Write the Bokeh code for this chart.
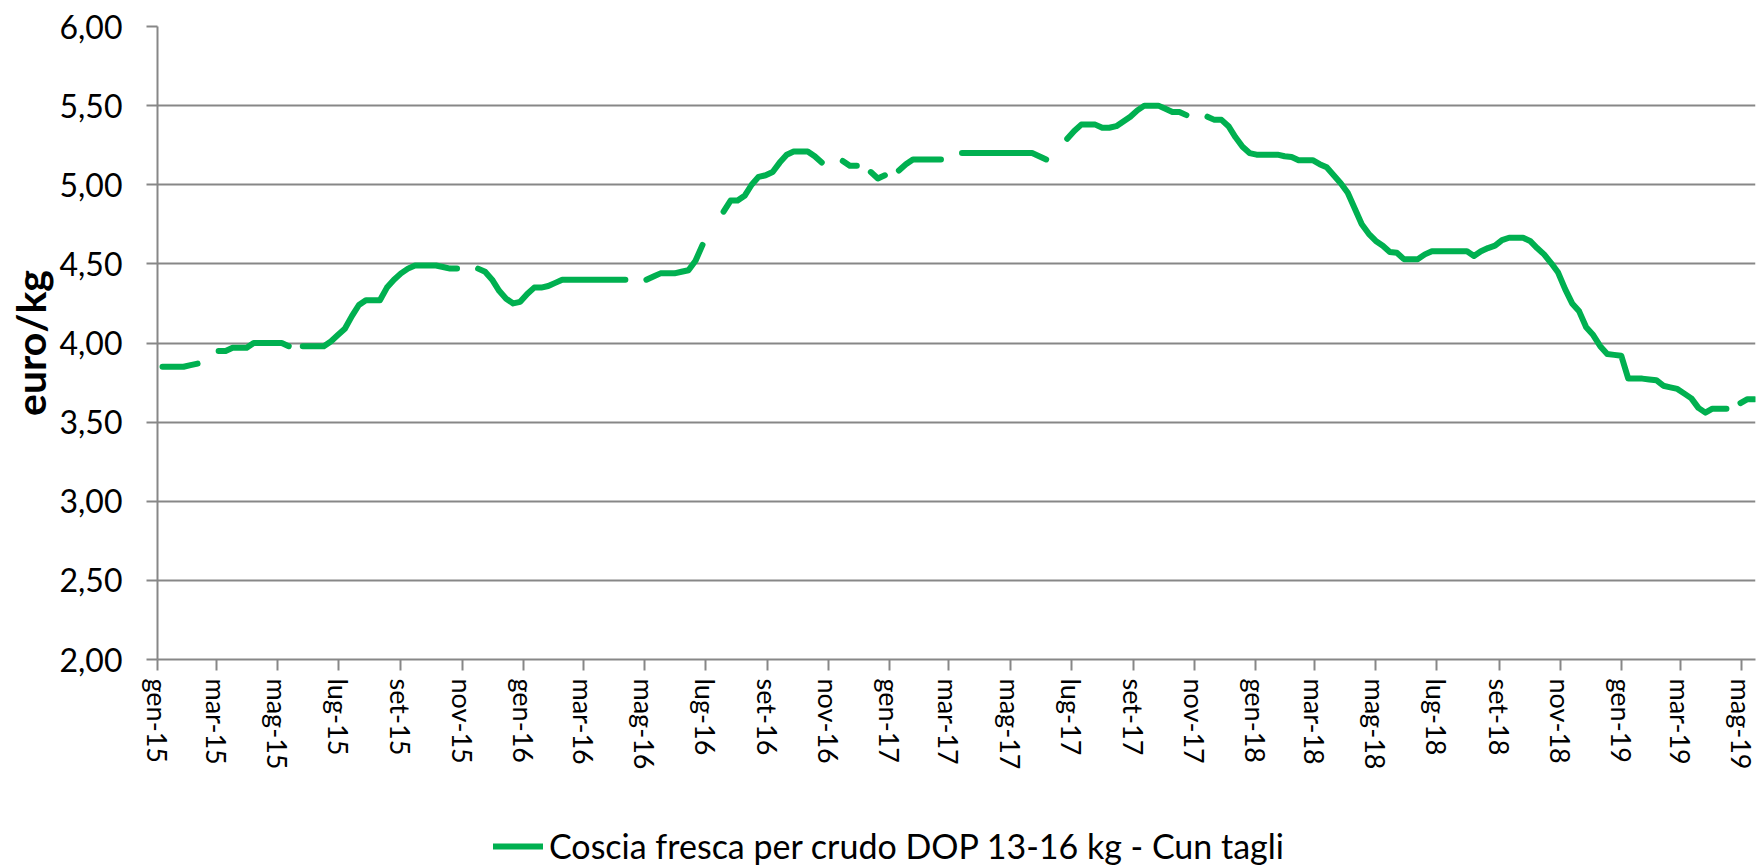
import numpy as np
import pandas as pd
from bokeh.plotting import figure
from bokeh.layouts import column
from bokeh.models import Range1d, FixedTicker, Legend, LegendItem
from bokeh.embed import file_html
from bokeh.resources import INLINE

# ---------------- data (weekly CUN quotations, None = no quotation) ----------------
first_week = "2015-01-06"

prices_2015 = [3.85, 3.85, 3.85, 3.85, 3.86, 3.87, None, None,
               3.95, 3.95, 3.97, 3.97, 3.97, 4.00, 4.00, 4.00, 4.00, 4.00, 3.98, None,
               3.98, 3.98, 3.98, 3.98, 4.01, 4.05, 4.09, 4.17, 4.24, 4.27,
               4.27, 4.27, 4.35, 4.40, 4.44, 4.47, 4.49, 4.49, 4.49, 4.49,
               4.48, 4.47, 4.47, None, None, 4.47, 4.45, 4.40, 4.33, 4.28,
               4.25, 4.26]

prices_2016 = [4.31, 4.35, 4.35, 4.36, 4.38, 4.40, 4.40, 4.40,
               4.40, 4.40, 4.40, 4.40, 4.40, 4.40, 4.40, None, None, 4.40,
               4.42, 4.44, 4.44, 4.44, 4.45, 4.46, 4.52, 4.62, None, None,
               4.83, 4.90, 4.90, 4.93, 5.00, 5.05, 5.06, 5.08, 5.14, 5.19,
               5.21, 5.21, 5.21, 5.18, 5.14, None, None, 5.15, 5.12, 5.12,
               None, 5.08, 5.04, 5.06]

prices_2017 = [None, 5.09, 5.13, 5.16, 5.16, 5.16, 5.16, 5.16, None, None,
               5.20, 5.20, 5.20, 5.20, 5.20, 5.20, 5.20, 5.20, 5.20, 5.20,
               5.20, 5.18, 5.16, None, None, 5.29, 5.34, 5.38, 5.38, 5.38,
               5.36, 5.36, 5.37, 5.40, 5.43, 5.47, 5.50, 5.50, 5.50, 5.48,
               5.46, 5.46, 5.44, None, None, 5.43, 5.41, 5.41, 5.37, 5.30,
               5.24, 5.20]

prices_2018 = [5.19, 5.19, 5.19, 5.19, 5.18, 5.175, 5.155, 5.155, 5.155, 5.13,
               5.11, 5.06, 5.01, 4.95, 4.85, 4.75, 4.69, 4.645, 4.615, 4.575,
               4.57, 4.53, 4.53, 4.53, 4.56, 4.58, 4.58, 4.58, 4.58, 4.58,
               4.58, 4.55, 4.58, 4.60, 4.615, 4.65, 4.665, 4.665, 4.665, 4.645,
               4.60, 4.56, 4.505, 4.445, 4.34, 4.25, 4.20, 4.10, 4.05, 3.98,
               3.93, 3.925]

prices_2019 = [3.92, 3.775, 3.775, 3.775, 3.77, 3.765, 3.73, 3.72, 3.71, 3.68,
               3.65, 3.59, 3.56, 3.585, 3.585, 3.585, None, 3.62, 3.645, 3.645]

x_tick_dates = ["2015-01-01", "2015-03-01", "2015-05-01", "2015-07-01", "2015-09-01", "2015-11-01",
                "2016-01-01", "2016-03-01", "2016-05-01", "2016-07-01", "2016-09-01", "2016-11-01",
                "2017-01-01", "2017-03-01", "2017-05-01", "2017-07-01", "2017-09-01", "2017-11-01",
                "2018-01-01", "2018-03-01", "2018-05-01", "2018-07-01", "2018-09-01", "2018-11-01",
                "2019-01-01", "2019-03-01", "2019-05-01"]
x_tick_labels = ["gen-15", "mar-15", "mag-15", "lug-15", "set-15", "nov-15",
                 "gen-16", "mar-16", "mag-16", "lug-16", "set-16", "nov-16",
                 "gen-17", "mar-17", "mag-17", "lug-17", "set-17", "nov-17",
                 "gen-18", "mar-18", "mag-18", "lug-18", "set-18", "nov-18",
                 "gen-19", "mar-19", "mag-19"]

y_ticks = [2.0, 2.5, 3.0, 3.5, 4.0, 4.5, 5.0, 5.5, 6.0]
y_tick_labels = ["2,00", "2,50", "3,00", "3,50", "4,00", "4,50", "5,00", "5,50", "6,00"]

series_name = "Coscia fresca per crudo DOP 13-16 kg - Cun tagli"
y_title = "euro/kg"

# ---------------- build ----------------
origin = pd.Timestamp("2015-01-01")
prices = prices_2015 + prices_2016 + prices_2017 + prices_2018 + prices_2019
dates = pd.date_range(first_week, periods=len(prices), freq="7D")
xs = np.asarray((dates - origin).days, dtype=float)
ys = np.array([np.nan if v is None else v for v in prices], dtype=float)
tick_days = [int((pd.Timestamp(d) - origin).days) for d in x_tick_dates]

GRID = "#878787"
GREEN = "#00B050"
FONT = "Lato"
W = 1757
LEFT = 157

p = figure(width=W, height=800, output_backend="svg", toolbar_location=None,
           x_range=Range1d(0, xs[-1] + 1), y_range=Range1d(2, 6),
           min_border_left=LEFT, min_border_right=2, min_border_top=26, min_border_bottom=141)
p.outline_line_color = None
p.background_fill_color = "white"
p.border_fill_color = "white"

p.xgrid.visible = False
p.ygrid.grid_line_color = GRID
p.ygrid.grid_line_width = 2

p.yaxis.ticker = FixedTicker(ticks=y_ticks)
p.yaxis.major_label_overrides = dict(zip(y_ticks, y_tick_labels))
p.xaxis.ticker = FixedTicker(ticks=tick_days)
p.xaxis.major_label_overrides = dict(zip(tick_days, x_tick_labels))
p.xaxis.major_label_orientation = "vertical"

for ax in (p.xaxis[0], p.yaxis[0]):
    ax.axis_line_color = GRID
    ax.axis_line_width = 2
    ax.major_tick_line_color = GRID
    ax.major_tick_line_width = 2
    ax.major_tick_out = 11
    ax.major_tick_in = 0
    ax.minor_tick_out = 0
    ax.minor_tick_in = 0
    ax.major_label_text_font = FONT
    ax.major_label_text_color = "black"

p.yaxis.major_label_text_font_size = "32px"
p.yaxis.major_label_standoff = 24
p.xaxis.major_label_text_font_size = "27px"
p.xaxis.major_label_standoff = 8

p.yaxis.axis_label = y_title
p.yaxis.axis_label_text_font = FONT
p.yaxis.axis_label_text_font_style = "bold"
p.yaxis.axis_label_text_font_size = "41px"
p.yaxis.axis_label_text_color = "black"
p.yaxis.axis_label_text_baseline = "middle"
p.yaxis.axis_label_standoff = 2

p.line(xs, ys, line_color=GREEN, line_width=6, line_cap="round", line_join="round")

# legend strip below the chart (frames of a column are aligned, so x is measured from LEFT)
lg = figure(width=W, height=66, output_backend="svg", toolbar_location=None,
            x_axis_location=None, y_axis_location=None,
            x_range=Range1d(0, 1), y_range=Range1d(0, 1), min_border=0)
lg.outline_line_color = None
lg.xgrid.visible = False
lg.ygrid.visible = False
proxy = lg.line(x=[np.nan, np.nan], y=[np.nan, np.nan], line_color=GREEN, line_width=6,
                line_cap="round")
legend = Legend(items=[LegendItem(label=series_name, renderers=[proxy], index=0)],
                location=(493 - LEFT, 0), orientation="horizontal",
                border_line_color=None, background_fill_alpha=0,
                padding=0, margin=0, spacing=0,
                glyph_width=50, glyph_height=36, label_height=36, label_standoff=6,
                label_text_font=FONT, label_text_font_size="34px", label_text_color="black")
lg.add_layout(legend, "center")

layout = column(p, lg, spacing=0)
open("out.html", "w").write(file_html(layout, INLINE))
